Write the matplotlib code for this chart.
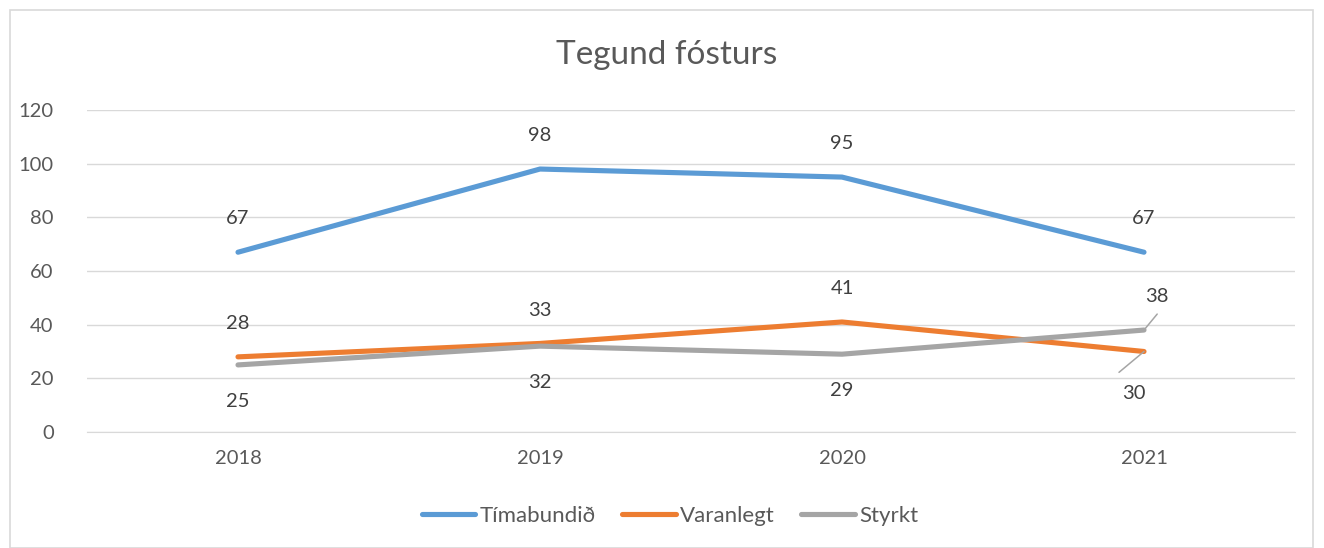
import matplotlib
matplotlib.use("Agg")
import matplotlib.pyplot as plt
from matplotlib.patches import Rectangle

plt.rcParams.update({
    "font.family": ["Lato", "DejaVu Sans"],
    "text.color": "#595959",
    "xtick.color": "#595959", "ytick.color": "#595959",
})

years = ["2018", "2019", "2020", "2021"]
timabundid = [67, 98, 95, 67]
varanlegt = [28, 33, 41, 30]
styrkt = [25, 32, 29, 38]

COLORS = {"Tímabundið": "#5B9BD5", "Varanlegt": "#ED7D31", "Styrkt": "#A5A5A5"}

fig = plt.figure(figsize=(13.24, 5.48), dpi=100)
fig.patches.append(Rectangle((10 / 1324, 0), 1303 / 1324, 538 / 548,
                             transform=fig.transFigure, fill=False,
                             edgecolor="#d9d9d9", linewidth=1.2))
ax = fig.add_axes([87 / 1324, 1 - 432 / 548, 1208 / 1324, 322 / 548])

x = list(range(len(years)))
series = [("Tímabundið", timabundid), ("Varanlegt", varanlegt),
          ("Styrkt", styrkt)]
for name, vals in series:
    ax.plot(x, vals, color=COLORS[name], lw=3.7, solid_capstyle="round",
            solid_joinstyle="round", label=name, zorder=3)

# data labels (offsets in points)
offsets = {
    "Tímabundið": [(0, 24), (0, 24), (0, 24), (0, 24)],
    "Varanlegt": [(0, 24), (0, 24), (0, 24), (-7, -30)],
    "Styrkt": [(0, -26), (0, -26), (0, -26), (9, 24)],
}
# leader lines for the crowded 2021 labels (end offsets in points)
leaders = {("Varanlegt", 3): (-18, -15), ("Styrkt", 3): (9.5, 11.5)}

for name, vals in series:
    for i, v in enumerate(vals):
        dx, dy = offsets[name][i]
        ax.annotate(str(v), (x[i], v), xytext=(dx, dy),
                    textcoords="offset points", ha="center", va="center",
                    fontsize=14.5, color="#404040")
        if (name, i) in leaders:
            ax.annotate("", (x[i], v), xytext=leaders[(name, i)],
                        textcoords="offset points",
                        arrowprops=dict(arrowstyle="-", color="#A5A5A5",
                                        lw=1.1, shrinkA=0, shrinkB=0))

ax.set_xlim(-0.5, 3.5)
ax.set_ylim(0, 120)
ax.set_yticks(range(0, 121, 20))
ax.set_xticks(x)
ax.set_xticklabels(years)
ax.tick_params(length=0, labelsize=14.5, pad=13)
ax.tick_params(axis="y", pad=24)
ax.grid(axis="y", color="#d9d9d9", lw=1)
ax.set_axisbelow(True)
for s in ["top", "right", "left"]:
    ax.spines[s].set_visible(False)
ax.spines["bottom"].set_color("#d9d9d9")

fig.text(667 / 1324, 1 - 55 / 548, "Tegund fósturs", ha="center",
         va="center", fontsize=24, color="#595959")
fig.legend(loc="center", bbox_to_anchor=(670 / 1324, 1 - 516 / 548),
           ncol=3, frameon=False, fontsize=16, handlelength=2.4,
           handletextpad=0.2, columnspacing=1.2)

fig.savefig("out.png", dpi=100)
